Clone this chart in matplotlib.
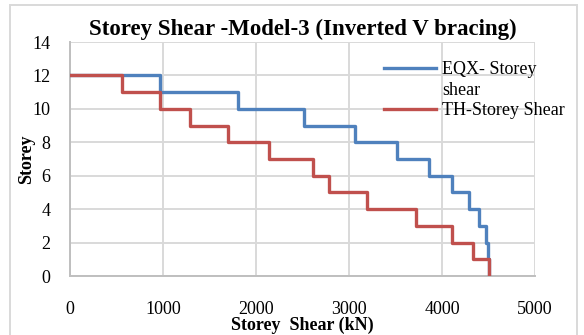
import matplotlib
matplotlib.use("Agg")
import matplotlib.pyplot as plt
from matplotlib.lines import Line2D
from matplotlib.patches import Rectangle

# storey levels, top down, and the shear at the end of each step (kN)
storeys = [12, 11, 10, 9, 8, 7, 6, 5, 4, 3, 2, 1, 0]
eqx_shear = [0, 967, 1808, 2518, 3065, 3516, 3860, 4108, 4290, 4398, 4473, 4495, 4505]
th_shear = [0, 558, 967, 1288, 1695, 2141, 2610, 2785, 3190, 3717, 4104, 4330, 4505]

x_ticks = [0, 1000, 2000, 3000, 4000, 5000]
y_ticks = [0, 2, 4, 6, 8, 10, 12, 14]

blue = "#4F81BD"
red = "#C0504D"
grid_c = "#D9D9D9"

plt.rcParams["font.family"] = ["Liberation Serif", "DejaVu Serif"]

fig = plt.figure(figsize=(5.84, 3.35), dpi=100)
ax = fig.add_axes([0.1199, 0.176, 0.7961, 0.6986])

ax.step(eqx_shear, storeys, where="post", color=blue, lw=2.4, zorder=3)
ax.step(th_shear, storeys, where="post", color=red, lw=2.4, zorder=4)

ax.set_xlim(0, 5000)
ax.set_ylim(0, 14)
ax.set_xticks(x_ticks)
ax.set_yticks(y_ticks)
ax.grid(True, color=grid_c, lw=1.4, zorder=0)
ax.set_axisbelow(True)
for s in ["top", "right"]:
    ax.spines[s].set_visible(False)
for s in ["left", "bottom"]:
    ax.spines[s].set_color("#BFBFBF")
    ax.spines[s].set_linewidth(1.4)
ax.tick_params(axis="both", length=0, labelsize=13)
ax.tick_params(axis="x", pad=18)
ax.tick_params(axis="y", pad=14)

ax.set_title("Storey Shear -Model-3 (Inverted V bracing)", fontsize=16.5,
             fontweight="bold", pad=5)
ax.set_xlabel("Storey  Shear (kN)", fontsize=13, fontweight="bold", labelpad=-1)
ax.set_ylabel("Storey", fontsize=13, fontweight="bold", labelpad=-2)

handles = [Line2D([], [], color=blue, lw=2.4),
           Line2D([], [], color="none"),
           Line2D([], [], color=red, lw=2.4)]
labels = ["EQX- Storey", "shear", "TH-Storey Shear"]
ax.legend(handles, labels, loc="upper left", bbox_to_anchor=(0.66, 0.95),
          frameon=False, fontsize=13, handlelength=2.9, handletextpad=0.3,
          labelspacing=0.2, borderaxespad=0)

fig.patches.append(Rectangle((10 / 584, -0.02), 567 / 584, 1.0 - 5 / 335 + 0.02,
                             transform=fig.transFigure, fill=False,
                             edgecolor=grid_c, lw=1.4))

fig.savefig("out.png", dpi=100)
